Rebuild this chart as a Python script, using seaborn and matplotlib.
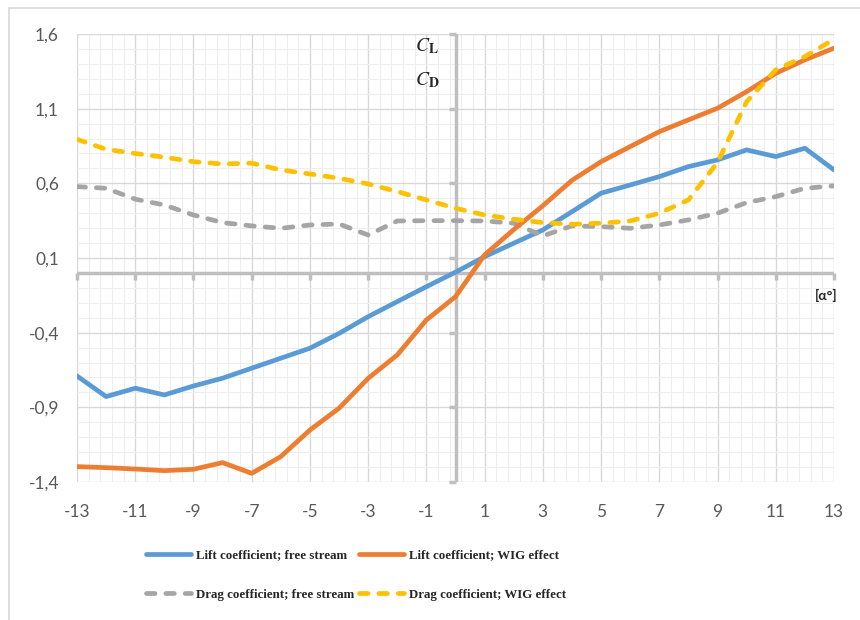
import matplotlib.pyplot as plt
import matplotlib.ticker as mticker
from matplotlib.lines import Line2D
from matplotlib.markers import TICKDOWN, TICKLEFT
import seaborn as sns
import pandas as pd
import numpy as np

alpha = list(range(-13, 14))
cl_free = [-0.69, -0.828, -0.772, -0.817, -0.757, -0.705, -0.638, -0.571, -0.504,
           -0.405, -0.293, -0.192, -0.092, 0.005, 0.109, 0.199, 0.288, 0.41,
           0.534, 0.589, 0.645, 0.712, 0.757, 0.824, 0.779, 0.835, 0.69]
cl_wig = [-1.297, -1.304, -1.313, -1.324, -1.315, -1.27, -1.342, -1.23, -1.052,
          -0.906, -0.706, -0.549, -0.315, -0.159, 0.121, 0.29, 0.45, 0.62,
          0.745, 0.846, 0.946, 1.025, 1.103, 1.214, 1.337, 1.427, 1.505]
cd_free = [0.578, 0.567, 0.494, 0.455, 0.388, 0.337, 0.315, 0.299, 0.321,
           0.328, 0.254, 0.348, 0.35, 0.35, 0.348, 0.333, 0.248, 0.315,
           0.31, 0.299, 0.321, 0.355, 0.40, 0.471, 0.511, 0.567, 0.583]
cd_wig = [0.895, 0.828, 0.80, 0.775, 0.745, 0.73, 0.735, 0.69, 0.663,
          0.634, 0.596, 0.545, 0.489, 0.433, 0.388, 0.36, 0.337, 0.326,
          0.333, 0.348, 0.40, 0.489, 0.74, 1.147, 1.36, 1.449, 1.565]

labels = ['Lift coefficient; free stream', 'Drag coefficient; free stream',
          'Lift coefficient; WIG effect', 'Drag coefficient; WIG effect']
series = [cl_free, cd_free, cl_wig, cd_wig]
colors = ['#5B9BD5', '#A5A5A5', '#ED7D31', '#FFC000']
dashed = [False, True, False, True]

xticks = list(range(-13, 14, 2))
yticks = [-1.4, -0.9, -0.4, 0.1, 0.6, 1.1, 1.6]

sns.set_style('white')
plt.rcParams['font.family'] = ['Lato', 'DejaVu Sans']
plt.rcParams['mathtext.fontset'] = 'stix'

fig = plt.figure(figsize=(8.6, 6.2), dpi=100)
ax = fig.add_axes([77/860, 1 - 482/620, (834 - 77)/860, (482 - 34)/620])

for vals, lab, col, d in zip(series, labels, colors, dashed):
    df = pd.DataFrame({'alpha': alpha, 'value': vals})
    ls = (0, (1.8, 2.3)) if d else '-'
    sns.lineplot(data=df, x='alpha', y='value', ax=ax, color=col, lw=3.4,
                 linestyle=ls, label=lab, dash_capstyle='round',
                 solid_capstyle='round', solid_joinstyle='round', zorder=4)

ax.set_xlim(-13, 13)
ax.set_ylim(-1.4, 1.6)
ax.set_xticks(xticks)
ax.set_yticks(yticks)
ax.set_xticklabels([str(t) for t in xticks])
ax.set_yticklabels([f'{t:.1f}'.replace('.', ',') for t in yticks])
ax.xaxis.set_minor_locator(mticker.FixedLocator(np.arange(-13, 13.01, 0.4)))
ax.yaxis.set_minor_locator(mticker.FixedLocator(np.arange(-1.4, 1.61, 0.1)))
ax.grid(True, which='major', color='#d9d9d9', lw=1.0)
ax.grid(True, which='minor', color='#eeeeee', lw=0.8)
ax.set_axisbelow(True)
ax.tick_params(which='both', length=0, labelsize=12.5, labelcolor='#595959')
ax.tick_params(axis='x', pad=16)
ax.tick_params(axis='y', pad=13)
for s in ax.spines.values():
    s.set_visible(False)
ax.set_xlabel('')
ax.set_ylabel('')

# axis lines crossing at the origin, with their tick marks
ax.axhline(0, color='#bfbfbf', lw=2.5, zorder=3)
ax.axvline(0, color='#bfbfbf', lw=2.5, zorder=3)
ax.plot(xticks, [0] * len(xticks), ls='none', marker=TICKDOWN, ms=5, mew=2.5,
        color='#bfbfbf', zorder=3, clip_on=False)
ax.plot([0] * len(yticks), yticks, ls='none', marker=TICKLEFT, ms=5, mew=2.5,
        color='#bfbfbf', zorder=3, clip_on=False)

fig.text(427/860, 1 - 46/620, r'$C_{\mathbf{L}}$', fontsize=14, ha='center', va='center')
fig.text(427/860, 1 - 80/620, r'$C_{\mathbf{D}}$', fontsize=14, ha='center', va='center')
fig.text(826/860, 1 - 295/620, '[α°]', fontsize=10, fontweight='bold',
         ha='center', va='center', color='#262626')

ax.get_legend().remove()
h, l = ax.get_legend_handles_labels()
fig.legend(h, l, ncol=2, loc='center', bbox_to_anchor=(356/860, 1 - 575/620),
           frameon=False, prop={'family': 'Liberation Serif', 'weight': 'bold', 'size': 9.3},
           handlelength=3.5, handletextpad=0.4, columnspacing=0.3, labelspacing=2.1)

fig.add_artist(Line2D([9/860, 9/860], [0, 1 - 8/620], color='#d9d9d9', lw=1.2))
fig.add_artist(Line2D([9/860, 1], [1 - 8/620, 1 - 8/620], color='#d9d9d9', lw=1.2))

fig.savefig('out.png', dpi=100)
